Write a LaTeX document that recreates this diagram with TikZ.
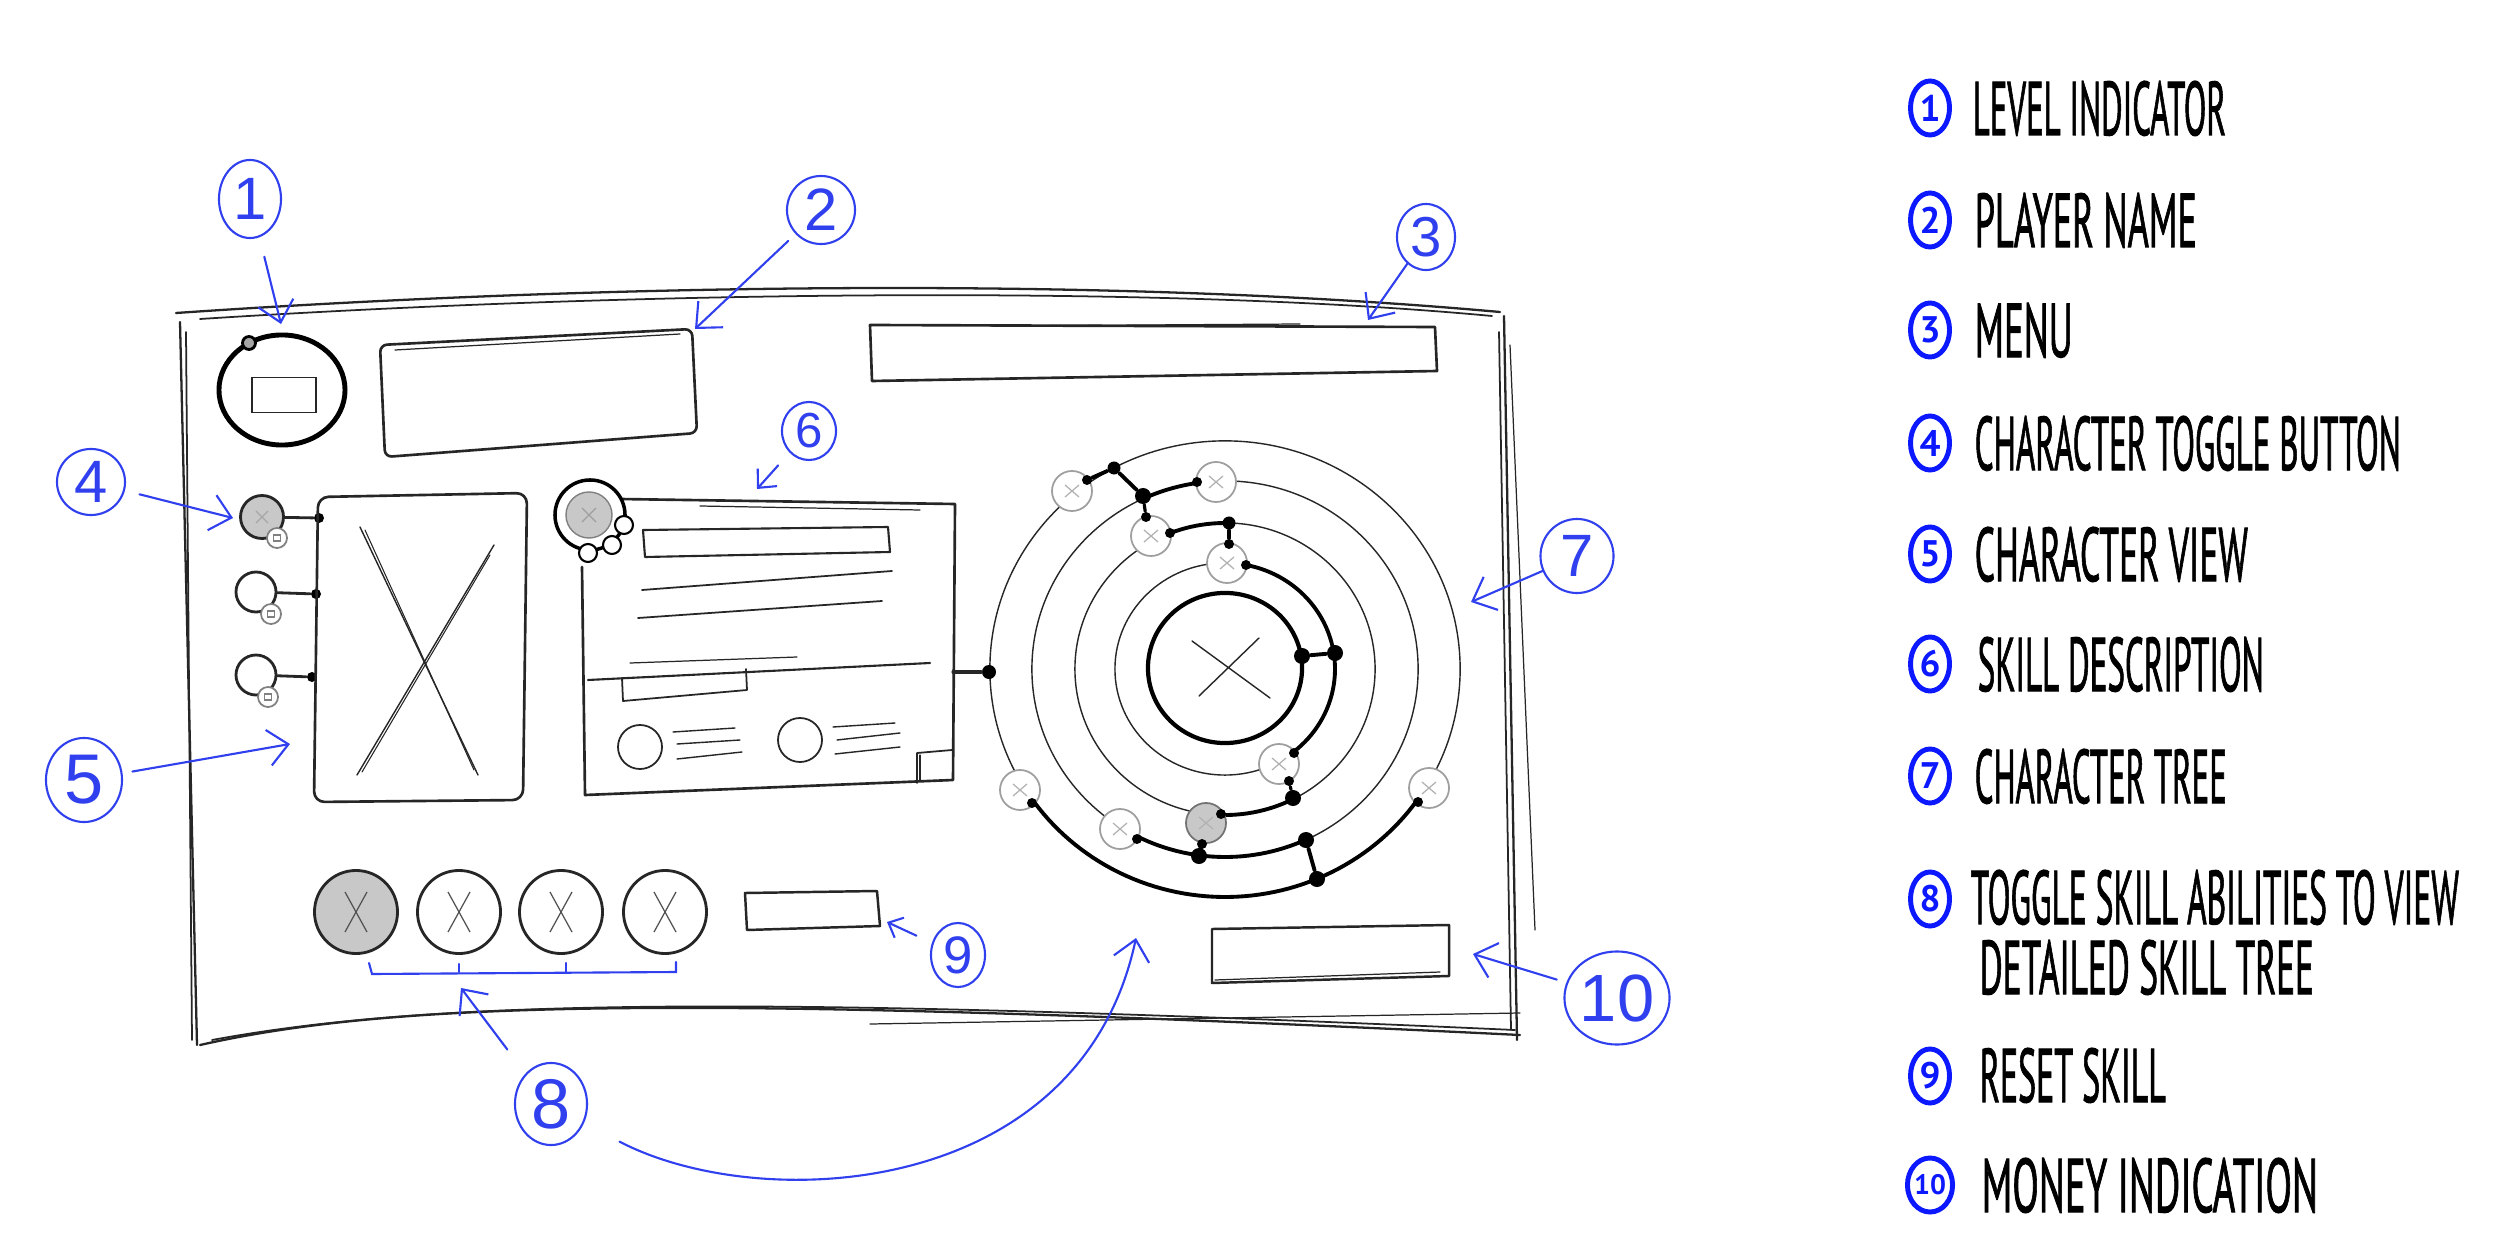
\documentclass[tikz,border=0pt]{standalone}
\usepackage{fontspec}
\usepackage{graphicx}
\usetikzlibrary{arrows.meta,shapes.geometric}
\newfontfamily\handfont[FakeBold=1.6]{PT Sans}
\newfontfamily\numfont{PT Sans}
\newfontfamily\annfont{Liberation Sans}
\definecolor{annot}{RGB}{48,64,238}
\definecolor{legblue}{RGB}{12,24,255}
\definecolor{pencil}{RGB}{38,38,38}
\definecolor{shade}{RGB}{200,200,200}
\newcommand{\legtxt}[2]{\resizebox{#1}{0.54cm}{\handfont #2}}
\tikzset{
  sketch/.style={draw=pencil, line width=0.5pt, line cap=round, line join=round},
  ring/.style={draw=pencil, line width=0.4pt},
  tpath/.style={draw=black, line width=1.1pt, line cap=round},
  annline/.style={draw=annot, line width=0.6pt, line cap=round},
  annarrow/.style={annline, -{Straight Barb[length=2mm,width=3.6mm]}},
  anncircle/.style={ellipse, draw=annot, line width=0.6pt, inner sep=0, text=annot},
  legnum/.style={ellipse, draw=legblue, line width=1.4pt, minimum width=0.39cm, minimum height=0.54cm, inner sep=0, text=legblue, font=\numfont\bfseries\fontsize{10.5}{10.5}\selectfont},
  legtext/.style={anchor=base west, inner sep=0},
  xmark/.style n args={3}{path picture={\draw[#1, line width=0.35pt] ([shift={(-#2,-#3)}]path picture bounding box.center) -- ([shift={(#2,#3)}]path picture bounding box.center) ([shift={(-#2,#3)}]path picture bounding box.center) -- ([shift={(#2,-#3)}]path picture bounding box.center);}},
  sqmark/.style={path picture={\draw[gray, line width=0.3pt] ([shift={(-0.035cm,-0.03cm)}]path picture bounding box.center) rectangle ([shift={(0.035cm,0.03cm)}]path picture bounding box.center);}},
  skillnode/.style={circle, draw=gray!75, fill=white, line width=0.5pt, minimum size=0.4cm, inner sep=0, xmark={gray!60}{0.07cm}{0.06cm}},
  bskill/.style={circle, draw=pencil, fill=white, line width=0.8pt, minimum size=0.83cm, inner sep=0, xmark={pencil!80}{0.11cm}{0.2cm}},
  subbtn/.style={circle, draw=gray, fill=white, line width=0.5pt, minimum size=0.2cm, inner sep=0, sqmark},
  tdot/.style={circle, fill=black, inner sep=0, minimum size=0.1cm},
  tbig/.style={circle, fill=black, inner sep=0, minimum size=0.16cm},
}
\begin{document}
\begin{tikzpicture}[x=0.01cm, y=-0.01cm]
\fill[white] (0,0) rectangle (2500,1252);
\useasboundingbox (0,0) rectangle (2500,1252);

% ---------- frame (sketchy) ----------
\draw[sketch, line width=0.65pt] (176,313) .. controls (600,284) and (1100,276) .. (1500,312);
\draw[sketch] (200,319) .. controls (620,292) and (1150,284) .. (1492,316);
\draw[sketch, line width=0.65pt] (180,322) -- (197,1045);
\draw[sketch] (186,332) -- (192,1040);
\draw[sketch, line width=0.65pt] (1504,316) -- (1517,1040);
\draw[sketch] (1499,332) -- (1511,1030);
\draw[sketch, line width=0.35pt] (1510,345) -- (1535,930);
\draw[sketch, line width=0.65pt] (200,1045) .. controls (400,1000) and (700,995) .. (1520,1035);
\draw[sketch] (212,1040) .. controls (450,996) and (800,998) .. (1515,1030);
\draw[sketch, line width=0.35pt] (870,1024) -- (1520,1013);

% ---------- level indicator ----------
\node[ellipse, draw=black, line width=1.4pt, minimum width=1.26cm, minimum height=1.1cm, inner sep=0] (lvl) at (282,390) {};
\node[draw=pencil, line width=0.5pt, minimum width=0.64cm, minimum height=0.35cm, inner sep=0] (lvlbox) at (284,395) {};
\node[circle, fill=gray!70, draw=black, line width=0.8pt, minimum size=0.13cm, inner sep=0] (lvldot) at (249,343) {};

% ---------- player name ----------
\draw[sketch, line width=0.75pt, rounded corners=2pt] (380,345) -- (692,329) -- (697,433) -- (385,457) -- cycle;
\draw[sketch, line width=0.35pt] (395,350) -- (680,334);

% ---------- menu ----------
\draw[sketch, line width=0.75pt] (870,325) -- (1435,327) -- (1437,371) -- (872,381) -- cycle;
\draw[sketch, line width=0.35pt] (990,326) -- (1300,324);

% ---------- character toggle buttons ----------
\node[circle, draw=pencil, fill=shade, line width=0.8pt, minimum size=0.43cm, inner sep=0, xmark={gray!70}{0.06cm}{0.06cm}] (tb1) at (262,517) {};
\node[circle, draw=pencil, fill=white, line width=0.8pt, minimum size=0.4cm, inner sep=0] (tb2) at (256,592) {};
\node[circle, draw=pencil, fill=white, line width=0.8pt, minimum size=0.4cm, inner sep=0] (tb3) at (256,675) {};
\node[subbtn] (tb1s) at (277,538) {};
\node[subbtn] (tb2s) at (271,614) {};
\node[subbtn] (tb3s) at (268,697) {};
\node[tdot] (cv1) at (319,518) {};
\node[tdot] (cv2) at (316,594) {};
\node[tdot] (cv3) at (312,677) {};
\draw[sketch, line width=0.8pt] (tb1) -- (cv1);
\draw[sketch, line width=0.8pt] (tb2) -- (cv2);
\draw[sketch, line width=0.8pt] (tb3) -- (cv3);

% ---------- character view ----------
\draw[sketch, line width=0.75pt, rounded corners=3pt] (318,497) -- (527,493) -- (523,800) -- (314,802) -- cycle;
\draw[sketch, line width=0.4pt] (360,527) -- (478,775);
\draw[sketch, line width=0.3pt] (365,530) -- (474,770);
\draw[sketch, line width=0.4pt] (494,545) -- (357,775);
\draw[sketch, line width=0.3pt] (490,555) -- (362,772);

% ---------- skill description ----------
\draw[sketch, line width=0.75pt] (620,499) -- (955,504) -- (953,780) -- (585,795) -- (582,567);
\draw[sketch, line width=0.35pt] (700,506) -- (920,510);
\node[circle, draw=black, fill=white, line width=1pt, minimum size=0.7cm, inner sep=0] (sdring) at (590,515) {};
\node[circle, draw=gray, fill=shade, line width=0.4pt, minimum size=0.46cm, inner sep=0, xmark={gray!75}{0.07cm}{0.07cm}] (sdicon) at (589,515) {};
\node[circle, draw=black, fill=white, line width=0.6pt, minimum size=0.18cm, inner sep=0] (sd1) at (624,525) {};
\node[circle, draw=black, fill=white, line width=0.6pt, minimum size=0.18cm, inner sep=0] (sd2) at (612,545) {};
\node[circle, draw=black, fill=white, line width=0.6pt, minimum size=0.18cm, inner sep=0] (sd3) at (588,553) {};
\draw[sketch, line width=0.6pt] (643,530) -- (888,527) -- (890,552) -- (645,557) -- cycle;
\draw[sketch] (642,590) -- (892,571);
\draw[sketch] (638,618) -- (882,601);
\draw[sketch, line width=0.6pt] (588,680) -- (930,663);
\draw[sketch, line width=0.35pt] (630,663) -- (797,657);
\draw[sketch] (622,678) -- (623,701) -- (747,690) -- (746,669);
\node[circle, draw=pencil, line width=0.5pt, minimum size=0.44cm, inner sep=0] (sdc1) at (640,747) {};
\node[circle, draw=pencil, line width=0.5pt, minimum size=0.44cm, inner sep=0] (sdc2) at (800,740) {};
\draw[sketch, line width=0.4pt] (673,732) -- (735,728) (677,744) -- (740,740) (677,759) -- (742,752);
\draw[sketch, line width=0.4pt] (833,727) -- (895,723) (837,740) -- (900,733) (835,754) -- (900,747);
\draw[sketch] (917,783) -- (917,753) -- (952,750);
\draw[sketch, line width=0.35pt] (920,781) -- (920,755);
\coordinate (sdR) at (953,672);

% ---------- character tree ----------
\draw[ring] (1225,669) ellipse [x radius=2.35cm, y radius=2.28cm];
\draw[ring] (1225,669) ellipse [x radius=1.93cm, y radius=1.88cm];
\draw[ring] (1225,669) ellipse [x radius=1.50cm, y radius=1.46cm];
\draw[ring] (1225,669) ellipse [x radius=1.10cm, y radius=1.06cm];
\node[ellipse, draw=black, line width=1.2pt, minimum width=1.54cm, minimum height=1.5cm, inner sep=0] (core) at (1225,668) {};
\draw[sketch, line width=0.4pt] (1192,641) -- (1270,698) (1259,638) -- (1199,696);

\draw[tpath] plot[domain=-79:51.5, samples=50] ({1225+110*cos(\x)},{669+106*sin(\x)});
\draw[tpath] plot[domain=62.9:91.5, samples=20] ({1225+150*cos(\x)},{669+146*sin(\x)});
\draw[tpath] plot[domain=65.3:117, samples=30] ({1225+193*cos(\x)},{669+188*sin(\x)});
\draw[tpath] plot[domain=35.4:144.3, samples=60] ({1225+235*cos(\x)},{669+228*sin(\x)});
\draw[tpath] plot[domain=-115:-98, samples=10] ({1225+193*cos(\x)},{669+188*sin(\x)});
\draw[tpath] plot[domain=-111.5:-88.4, samples=12] ({1225+150*cos(\x)},{669+146*sin(\x)});

\node[skillnode] (sA) at (1072,491) {};
\node[skillnode] (sB) at (1216,482) {};
\node[skillnode] (sC) at (1151,536) {};
\node[skillnode] (sD) at (1227,563) {};
\node[skillnode] (sE) at (1279,764) {};
\node[skillnode] (sF) at (1020,790) {};
\node[skillnode] (sG) at (1120,829) {};
\node[skillnode, fill=shade, draw=gray!90!black] (sH) at (1206,823) {};
\node[skillnode] (sI) at (1429,788) {};

\node[tdot] (dA) at (1087,480) {};
\node[tbig, minimum size=0.13cm] (dA2) at (1114,468) {};
\node[tbig] (dJ) at (1143,496) {};
\node[tdot] (dB) at (1197,482) {};
\node[tdot] (dC1) at (1146,517) {};
\node[tdot] (dC2) at (1170,533) {};
\node[tbig, minimum size=0.13cm] (dK) at (1229,523) {};
\node[tdot] (dD1) at (1229,544) {};
\node[tdot] (dD2) at (1246,565) {};
\node[tbig] (dL) at (1335,653) {};
\node[tbig] (dM) at (1302,656) {};
\node[tdot] (dE1) at (1294,753) {};
\node[tdot] (dE2) at (1289,781) {};
\node[tbig] (dN) at (1293,798) {};
\node[tdot] (dH1) at (1221,814) {};
\node[tdot] (dH2) at (1202,844) {};
\node[tbig] (dO) at (1199,856) {};
\node[tdot] (dG) at (1137,839) {};
\node[tbig] (dP) at (1306,840) {};
\node[tbig] (dQ) at (1317,879) {};
\node[tdot] (dF) at (1032,803) {};
\node[tdot] (dI) at (1418,802) {};
\node[tbig, minimum size=0.14cm] (dS) at (989,672) {};

\draw[tpath] (dA) -- (dA2) -- (dJ);
\draw[tpath, line width=0.9pt] (dJ) -- (dC1);
\draw[tpath, line width=0.9pt] (dK) -- (dD1);
\draw[tpath] (dL) -- (dM);
\draw[tpath, line width=0.9pt] (dE2) -- (dN);
\draw[tpath, line width=0.9pt] (dH2) -- (dO);
\draw[tpath] (dP) -- (dQ);
\draw[sketch, line width=0.9pt] (sdR) -- (dS);

% ---------- bottom skills, reset, money ----------
\node[bskill, fill=shade] (bs1) at (356,912) {};
\node[bskill] (bs2) at (459,912) {};
\node[bskill] (bs3) at (561,912) {};
\node[bskill] (bs4) at (665,912) {};
\draw[sketch, line width=0.7pt] (745,893) -- (877,891) -- (880,926) -- (747,930) -- cycle;
\draw[sketch, line width=0.7pt] (1212,929) -- (1449,925) -- (1449,976) -- (1212,983) -- cycle;
\draw[sketch, line width=0.35pt] (1215,980) -- (1440,972);

% ---------- annotations ----------
\node[anncircle, minimum width=0.62cm, minimum height=0.78cm, font=\annfont\fontsize{17}{17}\selectfont] (n1) at (250,199) {1};
\node[anncircle, minimum width=0.68cm, minimum height=0.68cm, font=\annfont\fontsize{17}{17}\selectfont] (n2) at (821,210) {2};
\node[anncircle, minimum width=0.58cm, minimum height=0.66cm, font=\annfont\fontsize{16}{16}\selectfont] (n3) at (1426,237) {3};
\node[anncircle, minimum width=0.68cm, minimum height=0.66cm, font=\annfont\fontsize{17}{17}\selectfont] (n4) at (91,482) {4};
\node[anncircle, minimum width=0.76cm, minimum height=0.84cm, font=\annfont\fontsize{20}{20}\selectfont] (n5) at (84,780) {5};
\node[anncircle, minimum width=0.54cm, minimum height=0.58cm, font=\annfont\fontsize{14}{14}\selectfont] (n6) at (809,431) {6};
\node[anncircle, minimum width=0.73cm, minimum height=0.74cm, font=\annfont\fontsize{17}{17}\selectfont] (n7) at (1577,556) {7};
\node[anncircle, minimum width=0.72cm, minimum height=0.82cm, font=\annfont\fontsize{20}{20}\selectfont] (n8) at (551,1104) {8};
\node[anncircle, minimum width=0.54cm, minimum height=0.64cm, font=\annfont\fontsize{15}{15}\selectfont] (n9) at (958,955) {9};
\node[anncircle, minimum width=0.99cm, minimum height=0.93cm, font=\annfont\fontsize{19}{19}\selectfont] (n10) at (1617,998) {10};

\coordinate (t1) at (281,324);
\coordinate (t2) at (695,329);
\coordinate (t3) at (1368,320);
\coordinate (t4) at (233,518);
\coordinate (t5) at (290,744);
\coordinate (t6) at (757,489);
\coordinate (t7) at (1471,602);
\coordinate (t8a) at (461,988);
\coordinate (t8b) at (1136,938);
\coordinate (t9) at (887,922);
\coordinate (t10) at (1473,954);

\draw[annarrow, shorten <=0.2cm] (n1) -- (t1);
\draw[annarrow, shorten <=0.1cm] (n2) -- (t2);
\draw[annarrow] (n3) -- (t3);
\draw[annarrow, shorten <=0.15cm] (n4) -- (t4);
\draw[annarrow, shorten <=0.1cm] (n5) -- (t5);
\draw[annarrow, -{Straight Barb[length=1.4mm,width=2.6mm]}, shorten <=0.17cm] (n6) -- (t6);
\draw[annarrow] (n7) -- (t7);
\draw[annarrow, -{Straight Barb[length=1.2mm,width=2.2mm]}, shorten <=0.17cm] (n9) -- (t9);
\draw[annarrow, shorten <=0.1cm] (n10) -- (t10);
\draw[annarrow, shorten <=0.3cm] (n8.130) -- (t8a);
\draw[annarrow, shorten <=0.4cm] (n8.-30) .. controls (760,1215) and (1080,1200) .. (t8b);

\draw[annline] (369,963) -- (372,974) -- (676,972) -- (676,962);
\draw[annline] (459,972) -- (459,964) (566,972) -- (566,963);

% ---------- legend ----------
\node[legnum] (k1) at (1930,108) {1};
\node[legtext] (l1) at (1972,135) {\legtxt{2.53cm}{LEVEL INDICATOR}};
\node[legnum] (k2) at (1930,220) {2};
\node[legtext] (l2) at (1974,247) {\legtxt{2.22cm}{PLAYER NAME}};
\node[legnum] (k3) at (1930,330) {3};
\node[legtext] (l3) at (1974,357) {\legtxt{0.98cm}{MENU}};
\node[legnum] (k4) at (1930,443) {4};
\node[legtext] (l4) at (1974,470) {\legtxt{4.26cm}{CHARACTER TOGGLE BUTTON}};
\node[legnum] (k5) at (1930,554) {5};
\node[legtext] (l5) at (1974,581) {\legtxt{2.73cm}{CHARACTER VIEW}};
\node[legnum] (k6) at (1930,664) {6};
\node[legtext] (l6) at (1977,691) {\legtxt{2.86cm}{SKILL DESCRIPTION}};
\node[legnum] (k7) at (1930,776) {7};
\node[legtext] (l7) at (1974,803) {\legtxt{2.52cm}{CHARACTER TREE}};
\node[legnum] (k8) at (1930,899) {8};
\node[legtext] (l8a) at (1970,924) {\legtxt{4.88cm}{TOGGLE SKILL ABILITIES TO VIEW}};
\node[legtext] (l8b) at (1979,994) {\legtxt{3.34cm}{DETAILED SKILL TREE}};
\node[legnum] (k9) at (1930,1076) {9};
\node[legtext] (l9) at (1979,1102) {\legtxt{1.86cm}{RESET SKILL}};
\node[legnum, font=\numfont\bfseries\fontsize{8}{8}\selectfont] (k10) at (1930,1185) {10};
\node[legtext] (l10) at (1981,1212) {\legtxt{3.36cm}{MONEY INDICATION}};
\end{tikzpicture}
\end{document}
